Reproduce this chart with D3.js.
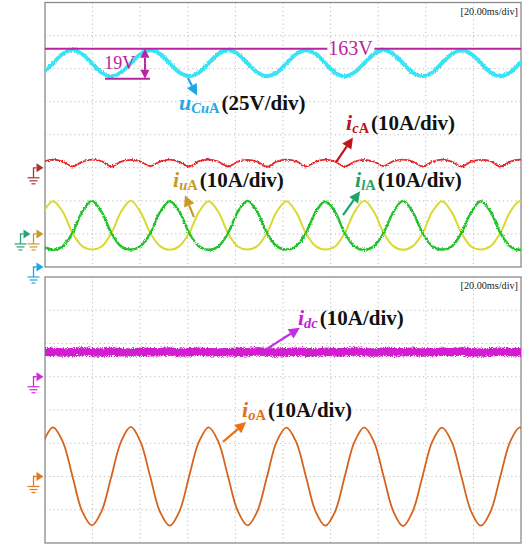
<!DOCTYPE html>
<html>
<head>
<meta charset="utf-8">
<script src="https://cdn.jsdelivr.net/npm/d3@7"></script>
<style>
  body { margin: 0; background: #fff; }
  svg { display: block; }
  text { font-family: "Liberation Serif", "Times New Roman", serif; }
</style>
</head>
<body>
<div id="scope"></div>
<script>
// Sample times (ms) read along the screen, one every 1/8 of the line period
const timeMs = [-0.72, 3.37, 7.45, 11.54, 15.62, 19.71, 23.80, 27.88,
    31.97, 36.05, 40.14, 44.23, 48.31, 52.40, 56.48, 60.57,
    64.66, 68.74, 72.83, 76.91, 81.00, 85.09, 89.17, 93.26,
    97.34, 101.43, 105.52, 109.60, 113.69, 117.77, 121.86, 125.95,
    130.03, 134.12, 138.20, 142.29, 146.38, 150.46, 154.55, 158.63,
    162.72, 166.81, 170.89, 174.98, 179.06, 183.15, 187.24, 191.32,
    195.41, 199.49, 203.58];

// Top screen: uCuA (V), icA, iuA, ilA (A)
const uCuA = [147.1, 154.0, 161.2, 164.0, 161.0, 154.2, 147.0, 144.3,
    147.2, 154.1, 161.0, 163.9, 161.1, 154.0, 147.1, 144.4,
    147.0, 154.2, 161.1, 164.0, 161.0, 154.1, 147.2, 144.3,
    147.1, 154.0, 161.0, 163.9, 161.2, 154.1, 147.0, 144.2,
    147.2, 154.1, 161.1, 164.0, 161.0, 154.0, 147.1, 144.4,
    147.0, 154.2, 161.0, 163.9, 161.1, 154.1, 147.1, 144.3,
    147.1, 154.0, 161.1];
const icA = [1.9, 2.5, 1.9, 0.4, 1.8, 2.5, 2.0, 0.4,
    1.9, 2.4, 1.9, 0.5, 1.9, 2.5, 1.8, 0.4,
    2.0, 2.5, 1.9, 0.4, 1.9, 2.4, 1.9, 0.3,
    1.9, 2.5, 2.0, 0.4, 1.8, 2.5, 1.9, 0.4,
    1.9, 2.4, 1.9, 0.5, 2.0, 2.5, 1.9, 0.4,
    1.8, 2.5, 1.9, 0.4, 1.9, 2.4, 2.0, 0.4,
    1.9, 2.5, 1.9];
const iuA = [6.6, 9.9, 6.7, 0.3, -3.7, -4.7, -3.8, 0.2,
    6.7, 10.0, 6.6, 0.3, -3.7, -4.8, -3.7, 0.3,
    6.6, 9.9, 6.7, 0.2, -3.8, -4.7, -3.7, 0.3,
    6.7, 9.9, 6.6, 0.3, -3.7, -4.7, -3.8, 0.3,
    6.6, 10.0, 6.7, 0.3, -3.7, -4.8, -3.7, 0.2,
    6.7, 9.9, 6.6, 0.3, -3.8, -4.7, -3.7, 0.3,
    6.6, 9.9, 6.7];
const ilA = [-3.7, -4.8, -3.7, 0.3, 6.7, 10.0, 6.6, 0.3,
    -3.8, -4.7, -3.7, 0.2, 6.6, 9.9, 6.7, 0.3,
    -3.7, -4.8, -3.8, 0.3, 6.7, 10.0, 6.6, 0.3,
    -3.7, -4.7, -3.7, 0.3, 6.6, 9.9, 6.7, 0.2,
    -3.8, -4.8, -3.7, 0.3, 6.7, 10.0, 6.6, 0.3,
    -3.7, -4.7, -3.8, 0.3, 6.6, 9.9, 6.7, 0.3,
    -3.7, -4.8, -3.7];

// Bottom screen: idc, ioA (A)
const idc = [7.4, 7.5, 7.3, 7.4, 7.6, 7.4, 7.3, 7.5,
    7.4, 7.3, 7.5, 7.4, 7.4, 7.6, 7.3, 7.4,
    7.5, 7.4, 7.3, 7.4, 7.5, 7.4, 7.6, 7.4,
    7.3, 7.4, 7.5, 7.4, 7.3, 7.5, 7.4, 7.4,
    7.6, 7.4, 7.3, 7.5, 7.4, 7.4, 7.5, 7.3,
    7.4, 7.5, 7.4, 7.6, 7.4, 7.3, 7.4, 7.5,
    7.4, 7.4, 7.5];
const ioA = [10.4, 14.8, 10.5, 0.1, -10.5, -14.7, -10.4, 0.0,
    10.5, 14.9, 10.4, -0.1, -10.6, -14.8, -10.5, 0.1,
    10.4, 14.8, 10.5, 0.0, -10.4, -14.7, -10.5, -0.1,
    10.5, 14.7, 10.4, 0.1, -10.5, -14.8, -10.6, 0.0,
    10.4, 14.8, 10.5, 0.0, -10.5, -14.9, -10.4, 0.1,
    10.5, 14.7, 10.4, -0.1, -10.5, -14.8, -10.5, 0.0,
    10.4, 14.8, 10.5];

// Capacitor voltage marks: level line and ripple bottom (V)
const uLevel = 165;
const uRippleLow = 142.3;
const uLevelText = "163V";
const uRippleText = "19V";
const timebaseText = "[20.00ms/div]";

// ---- layout
const W = 526, H = 546;
const divsX = 10, divsY = 8;
const x = d3.scaleLinear().domain([0, 200]).range([45, 521]);
const yTop = d3.scaleLinear().domain([0, divsY]).range([267, 2.5]);
const yBot = d3.scaleLinear().domain([0, divsY]).range([543, 277]);

const svg = d3.select("#scope").append("svg")
    .attr("width", W)
    .attr("height", H);

const defs = svg.append("defs");

// scope noise look on the thick traces
function noiseFilter(id, freq, seed, scale) {
    const f = defs.append("filter")
        .attr("id", id)
        .attr("filterUnits", "userSpaceOnUse")
        .attr("x", 0).attr("y", 0).attr("width", W).attr("height", H);
    f.append("feTurbulence")
        .attr("type", "fractalNoise")
        .attr("baseFrequency", freq)
        .attr("numOctaves", 2)
        .attr("seed", seed)
        .attr("result", "noise");
    f.append("feDisplacementMap")
        .attr("in", "SourceGraphic")
        .attr("in2", "noise")
        .attr("scale", scale)
        .attr("xChannelSelector", "R")
        .attr("yChannelSelector", "G");
}
noiseFilter("fuzz", "0.9 0.7", 4, 3);
noiseFilter("fuzzBig", "1.1 0.9", 9, 5);

// draw one screen: frame + dotted grid
function drawScreen(yDiv, id) {
    const g = svg.append("g");
    defs.append("clipPath").attr("id", id)
        .append("rect")
        .attr("x", x(0)).attr("y", yDiv(divsY))
        .attr("width", x(200) - x(0)).attr("height", yDiv(0) - yDiv(divsY));

    g.selectAll(".vgrid").data(d3.range(1, divsX)).join("line")
        .attr("x1", d => x(d * 20)).attr("x2", d => x(d * 20))
        .attr("y1", yDiv(divsY)).attr("y2", yDiv(0))
        .attr("stroke", "#bdbdbd").attr("stroke-width", 1)
        .attr("stroke-dasharray", "1.2,3");
    g.selectAll(".hgrid").data(d3.range(1, divsY)).join("line")
        .attr("x1", x(0)).attr("x2", x(200))
        .attr("y1", d => yDiv(d)).attr("y2", d => yDiv(d))
        .attr("stroke", "#bdbdbd").attr("stroke-width", 1)
        .attr("stroke-dasharray", "1.2,3");

    g.append("rect")
        .attr("x", x(0)).attr("y", yDiv(divsY))
        .attr("width", x(200) - x(0)).attr("height", yDiv(0) - yDiv(divsY))
        .attr("fill", "none")
        .attr("stroke", "#8a8a8a").attr("stroke-width", 1.3);

    g.append("text")
        .attr("x", x(200) - 3).attr("y", yDiv(divsY) + 12)
        .attr("text-anchor", "end")
        .attr("font-size", 10.2)
        .attr("fill", "#222")
        .text(timebaseText);
    return g;
}

drawScreen(yTop, "clipTop");
drawScreen(yBot, "clipBot");

// channel settings: which screen, ground in divisions, units per division
const channels = [
    {values: uCuA, yDiv: yTop, ground: 0, perDiv: 25, color: "#38e3f3", width: 4, filter: "fuzz", clip: "clipTop", marker: "#1fa6e6", mx: 0},
    {values: icA, yDiv: yTop, ground: 3, perDiv: 10, color: "#e4262a", width: 1.8, filter: "fuzz", clip: "clipTop", marker: "#a8343a", mx: 0},
    {values: iuA, yDiv: yTop, ground: 1, perDiv: 10, color: "#d9d930", width: 2.0, filter: null, clip: "clipTop", marker: "#c49a28", mx: 0},
    {values: ilA, yDiv: yTop, ground: 1, perDiv: 10, color: "#22c02a", width: 2.4, filter: "fuzz", clip: "clipTop", marker: "#2aa27a", mx: -13},
    {values: idc, yDiv: yBot, ground: 5, perDiv: 10, color: "#d21fd0", width: 8.5, filter: "fuzzBig", clip: "clipBot", marker: "#d02ad8", mx: 0},
    {values: ioA, yDiv: yBot, ground: 2, perDiv: 10, color: "#d4641e", width: 1.8, filter: null, clip: "clipBot", marker: "#e07a1c", mx: 0}
];

channels.forEach(ch => {
    ch.y = d3.scaleLinear()
        .domain([0, ch.perDiv])
        .range([ch.yDiv(ch.ground), ch.yDiv(ch.ground + 1)]);
});

const traces = svg.append("g");
channels.forEach(ch => {
    const line = d3.line()
        .x((d, i) => x(timeMs[i]))
        .y(d => ch.y(d))
        .curve(d3.curveCatmullRom.alpha(0.5));
    traces.append("g")
        .attr("clip-path", `url(#${ch.clip})`)
        .append("path")
        .datum(ch.values)
        .attr("d", line)
        .attr("fill", "none")
        .attr("stroke", ch.color)
        .attr("stroke-width", ch.width)
        .attr("stroke-linejoin", "round")
        .attr("filter", ch.filter ? `url(#${ch.filter})` : null);
});

// ground markers on the left edge
channels.forEach(ch => {
    const gy = ch.y(0);
    const tip = x(0) - 1.5 + ch.mx;
    const stem = tip - 10;
    const g = svg.append("g").attr("fill", ch.marker).attr("stroke", ch.marker);
    g.append("path")
        .attr("d", `M${tip},${gy} L${tip - 7},${gy - 4.5} L${tip - 7},${gy + 4.5} Z`)
        .attr("stroke", "none");
    g.append("path")
        .attr("d", `M${tip - 7},${gy} H${stem} V${gy + 10}`)
        .attr("fill", "none").attr("stroke-width", 1.3);
    [[12, 10], [8, 13], [4, 16]].forEach(([w, dy]) => {
        g.append("line")
            .attr("x1", stem - w / 2).attr("x2", stem + w / 2)
            .attr("y1", gy + dy).attr("y2", gy + dy)
            .attr("stroke-width", 1.2);
    });
});

// ---- annotations
const ann = svg.append("g");
const magenta = "#b8249f";

function arrow(g, x1, y1, x2, y2, color, len, half, w) {
    const a = Math.atan2(y2 - y1, x2 - x1);
    const bx = x2 - len * Math.cos(a), by = y2 - len * Math.sin(a);
    g.append("line")
        .attr("x1", x1).attr("y1", y1).attr("x2", bx).attr("y2", by)
        .attr("stroke", color).attr("stroke-width", w);
    g.append("path")
        .attr("d", `M${x2},${y2} L${bx + half * Math.sin(a)},${by - half * Math.cos(a)} L${bx - half * Math.sin(a)},${by + half * Math.cos(a)} Z`)
        .attr("fill", color);
}

// 163V level line broken by its label
const uCh = channels[0];
const yLevel = uCh.y(uLevel);
ann.append("line")
    .attr("x1", x(0)).attr("x2", x(200))
    .attr("y1", yLevel).attr("y2", yLevel)
    .attr("stroke", magenta).attr("stroke-width", 2);
const levelText = ann.append("text")
    .attr("x", x(128.4)).attr("y", yLevel + 6.5)
    .attr("text-anchor", "middle")
    .attr("font-size", 20)
    .attr("fill", magenta)
    .text(uLevelText);
const bb = levelText.node().getBBox();
ann.insert("rect", "text")
    .attr("x", bb.x - 1).attr("y", yLevel - 2)
    .attr("width", bb.width + 2).attr("height", 4)
    .attr("fill", "#fff");

// 19V ripple marker
const yLow = uCh.y(uRippleLow);
ann.append("line")
    .attr("x1", x(25.2)).attr("x2", x(44.1))
    .attr("y1", yLow).attr("y2", yLow)
    .attr("stroke", magenta).attr("stroke-width", 2);
arrow(ann, x(42), (yLevel + yLow) / 2, x(42), yLevel, magenta, 9, 4.5, 2);
arrow(ann, x(42), (yLevel + yLow) / 2, x(42), yLow, magenta, 9, 4.5, 2);
ann.append("text")
    .attr("x", x(37.9)).attr("y", yTop(6))
    .attr("text-anchor", "end")
    .attr("font-size", 18)
    .attr("fill", magenta)
    .text(uRippleText);

// channel labels, placed in (ms, div) screen units
const labels = [
    {t: 56.3, d: 4.74, yDiv: yTop, sym: "u", subI: "Cu", subU: "A", scale: "(25V/div)", color: "#22a9e2"},
    {t: 126.5, d: 4.14, yDiv: yTop, sym: "i", subI: "c", subU: "A", scale: "(10A/div)", color: "#c0141c"},
    {t: 53.8, d: 2.42, yDiv: yTop, sym: "i", subI: "u", subU: "A", scale: "(10A/div)", color: "#c49a2a"},
    {t: 130.3, d: 2.42, yDiv: yTop, sym: "i", subI: "l", subU: "A", scale: "(10A/div)", color: "#1fa468"},
    {t: 106.3, d: 6.56, yDiv: yBot, sym: "i", subI: "dc", subU: "", scale: "(10A/div)", color: "#c21fd6"},
    {t: 82.8, d: 3.79, yDiv: yBot, sym: "i", subI: "o", subU: "A", scale: "(10A/div)", color: "#e0701a"}
];

labels.forEach(l => {
    const t = ann.append("text")
        .attr("x", x(l.t)).attr("y", l.yDiv(l.d))
        .attr("font-weight", "bold");
    t.append("tspan")
        .attr("font-style", "italic")
        .attr("font-size", 22)
        .attr("fill", l.color)
        .text(l.sym);
    t.append("tspan")
        .attr("font-style", "italic")
        .attr("font-size", 14.5)
        .attr("dy", 3)
        .attr("fill", l.color)
        .text(l.subI);
    if (l.subU) {
        t.append("tspan")
            .attr("font-size", 14.5)
            .attr("fill", l.color)
            .text(l.subU);
    }
    t.append("tspan")
        .attr("font-size", 21)
        .attr("dy", -3)
        .attr("dx", 2)
        .attr("fill", "#111")
        .text(l.scale);
});

// pointer arrows from trace to label, (ms, div) start and end
const pointers = [
    {yDiv: yTop, p: [60.1, 5.71, 63.9, 5.19], color: "#1fa6e6"},
    {yDiv: yTop, p: [122.3, 3.17, 129.4, 3.92], color: "#c0141c"},
    {yDiv: yTop, p: [62.6, 1.51, 58.8, 2.17], color: "#c49a2a"},
    {yDiv: yTop, p: [125.2, 1.57, 132.4, 2.29], color: "#1fa468"},
    {yDiv: yBot, p: [92.4, 5.80, 107.1, 6.47], color: "#c230e2"},
    {yDiv: yBot, p: [74.8, 3.04, 84.5, 3.64], color: "#ef7212"}
];
pointers.forEach(a => {
    arrow(ann, x(a.p[0]), a.yDiv(a.p[1]), x(a.p[2]), a.yDiv(a.p[3]), a.color, 11, 5.5, 2.2);
});
</script>
</body>
</html>
